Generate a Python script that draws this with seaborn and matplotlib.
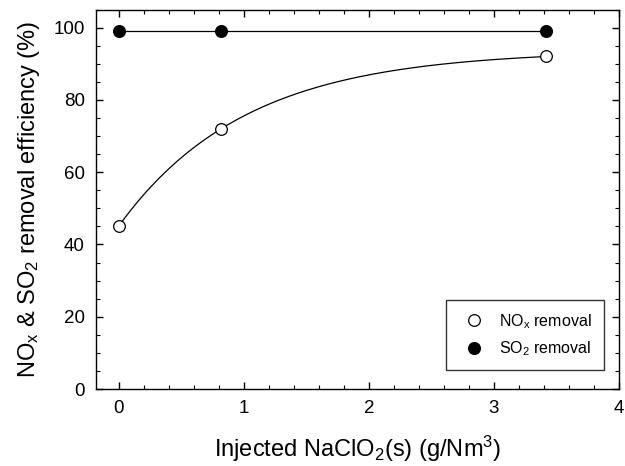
import numpy as np
import pandas as pd
import matplotlib
matplotlib.use("Agg")
import matplotlib.pyplot as plt
from matplotlib.ticker import MultipleLocator
from matplotlib.lines import Line2D
import seaborn as sns

# Data
nacl_dose = [0.0, 0.82, 3.42]
nox_removal = [45.0, 72.0, 92.0]
so2_removal = [99.0, 99.0, 99.0]
x_ticks = [0, 1, 2, 3, 4]
y_ticks = [0, 20, 40, 60, 80, 100]

sns.set_style("ticks")
plt.rcParams['font.family'] = ['Liberation Sans', 'DejaVu Sans']
plt.rcParams['mathtext.fontset'] = 'custom'
plt.rcParams['mathtext.rm'] = 'Liberation Sans'
plt.rcParams['mathtext.it'] = 'Liberation Sans'
plt.rcParams['text.color'] = 'black'
plt.rcParams['axes.labelcolor'] = 'black'
plt.rcParams['xtick.color'] = 'black'
plt.rcParams['ytick.color'] = 'black'

fig = plt.figure(figsize=(6.25, 4.66), dpi=100)
ax = fig.add_axes([0.1536, 0.1652, 0.9904 - 0.1536, 0.9796 - 0.1652])

# Exponential rise-to-max fit y = y0 + a(1 - exp(-b x)) through NOx points
x1, x2 = nacl_dose[1], nacl_dose[2]
d1 = nox_removal[1] - nox_removal[0]
d2 = nox_removal[2] - nox_removal[0]
target = d2 / d1
lo, hi = 0.01, 10.0
for _ in range(100):
    mid = 0.5 * (lo + hi)
    r = (1 - np.exp(-mid * x2)) / (1 - np.exp(-mid * x1))
    if r > target:
        lo = mid
    else:
        hi = mid
b = 0.5 * (lo + hi)
a = d1 / (1 - np.exp(-b * x1))
xs = np.linspace(nacl_dose[0], nacl_dose[-1], 200)
fit = pd.DataFrame({"x": xs, "y": nox_removal[0] + a * (1 - np.exp(-b * xs))})

df = pd.DataFrame({"x": nacl_dose, "nox": nox_removal, "so2": so2_removal})

sns.lineplot(data=fit, x="x", y="y", ax=ax, color="black", lw=0.9)
sns.lineplot(data=df, x="x", y="so2", ax=ax, color="black", lw=0.9)
ax.plot(df["x"], df["nox"], "o", ms=8.4, mfc="white", mec="black", mew=0.9, ls="none", zorder=3)
ax.plot(df["x"], df["so2"], "o", ms=8.4, mfc="black", mec="black", ls="none", zorder=3)

ax.set_xlim(-0.18, 4.0)
ax.set_ylim(0, 105)
ax.set_xticks(x_ticks)
ax.set_yticks(y_ticks)
ax.xaxis.set_minor_locator(MultipleLocator(0.2))
ax.yaxis.set_minor_locator(MultipleLocator(5))
ax.tick_params(which="both", direction="in", top=True, right=True, color="black")
ax.tick_params(which="major", length=5, width=1, labelsize=13.5, pad=8, labelcolor="black")
ax.tick_params(which="minor", length=3, width=0.8)
for s in ax.spines.values():
    s.set_color("black")
    s.set_linewidth(1)

ax.set_xlabel("Injected NaClO$_2$(s) (g/Nm$^3$)", fontsize=17, labelpad=12, color="black")
ax.set_ylabel("NO$_x$ & SO$_2$ removal efficiency (%)", fontsize=17, labelpad=8, color="black")

handles = [
    Line2D([], [], marker="o", ls="none", ms=8.4, mfc="white", mec="black", mew=0.9, label="NO$_x$ removal"),
    Line2D([], [], marker="o", ls="none", ms=8.4, mfc="black", mec="black", label="SO$_2$ removal"),
]
leg = ax.legend(handles=handles, loc="lower right", bbox_to_anchor=(0.971, 0.05),
                fontsize=11.5, frameon=True, fancybox=False, edgecolor="black",
                borderpad=0.75, labelspacing=0.55, handletextpad=0.6, borderaxespad=0)
leg.get_frame().set_linewidth(1)
for t in leg.get_texts():
    t.set_color("black")

fig.savefig("out.png", dpi=100)
